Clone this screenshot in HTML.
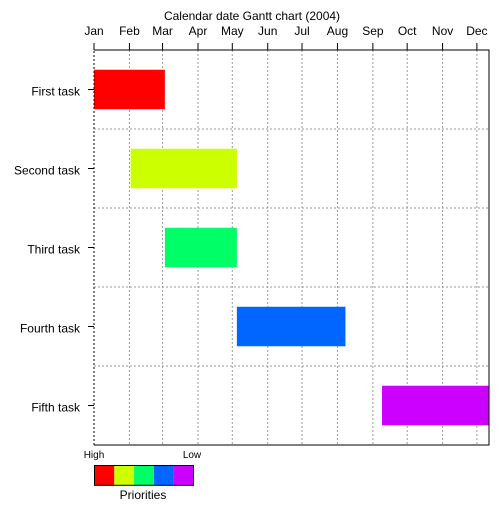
<!DOCTYPE html>
<html><head><meta charset="utf-8"><style>
body{margin:0;background:#fff;}
svg text{font-family:"Liberation Sans",Arial,sans-serif;font-size:12px;fill:#000;}
</style></head><body>
<svg id="c" width="504" height="504" xmlns="http://www.w3.org/2000/svg"></svg>
<script>
const taskLabels=["First task","Second task","Third task","Fourth task","Fifth task"];
const startDates=["2004-01-01","2004-02-02","2004-03-03","2004-05-05","2004-09-09"];
const endDates=["2004-03-03","2004-05-05","2004-05-05","2004-08-08","2004-12-31"];
const taskColors=["#ff0000","#ccff00","#00ff66","#0066ff","#cc00ff"];
const monthLabels=["Jan","Feb","Mar","Apr","May","Jun","Jul","Aug","Sep","Oct","Nov","Dec"];
const monthStarts=["2004-01-01","2004-02-01","2004-03-01","2004-04-01","2004-05-01","2004-06-01","2004-07-01","2004-08-01","2004-09-01","2004-10-01","2004-11-01","2004-12-01"];
const xMinDay=0, xMaxDay=345.6;
const L=94,R=489,T=50,B=445;
const svg=document.getElementById('c');
const NS="http://www.w3.org/2000/svg";
function doy(s){const d=new Date(s+"T00:00:00Z");return (d-Date.UTC(2004,0,1))/86400000;}
function x(day){return L+(Math.min(day,xMaxDay)-xMinDay)/(xMaxDay-xMinDay)*(R-L);}
const rowH=(B-T)/taskLabels.length;
function yc(i){return T+rowH*(i+0.5);}
function mk(tag,attrs,parent){const e=document.createElementNS(NS,tag);for(const k in attrs)e.setAttribute(k,attrs[k]);(parent||svg).appendChild(e);return e;}
let t=mk('text',{x:252,y:20,'text-anchor':'middle'});t.textContent="Calendar date Gantt chart (2004)";


monthStarts.forEach((m,i)=>{
  const xx=x(doy(m));
  if(i>0){const g=mk('line',{x1:xx,x2:xx,y1:T,y2:B,stroke:'#999','stroke-dasharray':'2,2'});
  
  }
  const tk=mk('line',{x1:xx,x2:xx,y1:43,y2:T,stroke:'#000'});
  
  
  const lb=mk('text',{x:xx,y:35,'text-anchor':'middle'});lb.textContent=monthLabels[i];
  
  
});
for(let i=1;i<taskLabels.length;i++){const yy=T+rowH*i;
  const g=mk('line',{x1:L,x2:R,y1:yy,y2:yy,stroke:'#999','stroke-dasharray':'2,2'});
  
  }
taskLabels.forEach((n,i)=>{
  const x0=x(doy(startDates[i])),x1=x(doy(endDates[i]));
  const r=mk('rect',{x:x0,y:yc(i)-rowH/4,width:x1-x0,height:rowH/2,fill:taskColors[i]});
  
  
  const tk=mk('line',{x1:88,x2:L,y1:yc(i),y2:yc(i),stroke:'#000'});
  
  
  const lb=mk('text',{x:80,y:yc(i)+6,'text-anchor':'end'});lb.textContent=n;
  
  
});
const f=mk('path',{d:`M${L},${T}H${R}V${B}H${L}`,fill:'none',stroke:'#000'});


const la=mk('line',{x1:L,x2:L,y1:43,y2:B,stroke:'#000','stroke-dasharray':'2,2'});


taskColors.forEach((c,i)=>{const r=mk('rect',{x:94.5+i*19.8,y:465.5,width:19.8,height:19.8,fill:c});
  
  });
const lr=mk('rect',{x:94.5,y:465.5,width:99,height:19.8,fill:'none',stroke:'#000'});


let h=mk('text',{x:94,y:458,'text-anchor':'middle'});h.textContent="High";h.style.fontSize='10px';


let lo=mk('text',{x:192,y:458,'text-anchor':'middle'});lo.textContent="Low";lo.style.fontSize='10px';


let p=mk('text',{x:143,y:499,'text-anchor':'middle'});p.textContent="Priorities";


</script>
</body></html>
